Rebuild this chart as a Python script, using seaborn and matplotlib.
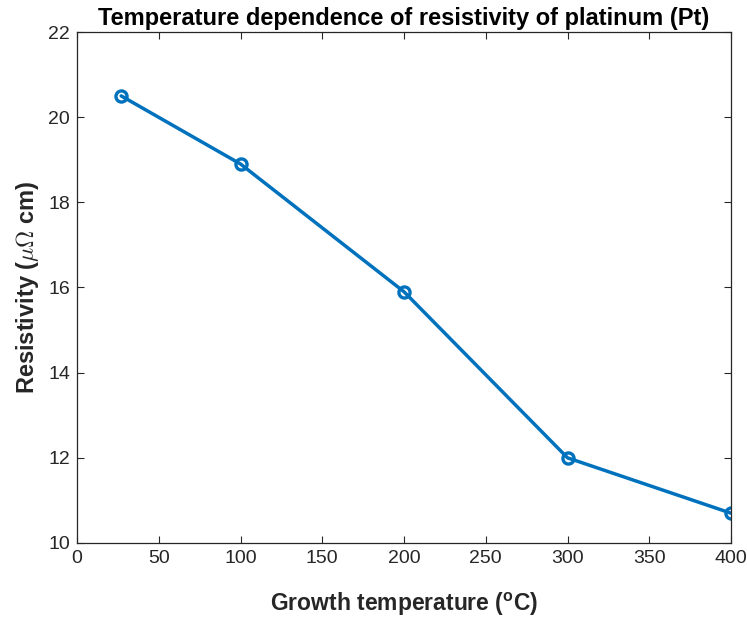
import matplotlib
matplotlib.use("Agg")
import matplotlib.pyplot as plt
import seaborn as sns
import pandas as pd

# Resistivity of platinum films versus growth temperature
growth_temp_c = [27, 100, 200, 300, 400]
resistivity_uohm_cm = [20.5, 18.9, 15.9, 12.0, 10.7]
x_ticks = [0, 50, 100, 150, 200, 250, 300, 350, 400]
y_ticks = [10, 12, 14, 16, 18, 20, 22]

sns.set_theme(style="ticks")
plt.rcParams["font.family"] = ["Liberation Sans", "DejaVu Sans"]
plt.rcParams["mathtext.fontset"] = "custom"
plt.rcParams["mathtext.rm"] = "Liberation Sans"
plt.rcParams["mathtext.bf"] = "Liberation Sans:bold"
plt.rcParams["mathtext.it"] = "Liberation Sans:italic"

axis_color = "#262626"
line_color = "#0072BD"

df = pd.DataFrame({"T": growth_temp_c, "rho": resistivity_uohm_cm})

fig = plt.figure(figsize=(7.47, 6.19), dpi=100)
ax = fig.add_axes([0.1031, 0.1228, 0.8755, 0.8255])

sns.lineplot(data=df, x="T", y="rho", ax=ax, color=line_color, linewidth=2.5,
             marker="o", markersize=8, markerfacecolor="none",
             markeredgecolor=line_color, markeredgewidth=2.4)

ax.set_xlim(0, 400)
ax.set_ylim(10, 22)
ax.set_xticks(x_ticks)
ax.set_yticks(y_ticks)
ax.tick_params(direction="in", length=5, width=0.8, colors=axis_color,
               labelsize=14, top=True, right=True, pad=5)
for side in ax.spines.values():
    side.set_color(axis_color)
    side.set_linewidth(0.9)
    side.set_visible(True)

ax.set_title("Temperature dependence of resistivity of platinum (Pt)",
             fontsize=17, fontweight="bold", color="black", pad=5)
ax.set_xlabel(r"Growth temperature ($^{\mathbf{o}}$C)", fontsize=16.5,
              fontweight="bold", color=axis_color, labelpad=17)
ylab = ax.set_ylabel(r"Resistivity ($\mu\Omega$ cm)", fontsize=17,
                     fontweight="bold", color=axis_color, labelpad=5)
ylab.set_math_fontfamily("cm")

fig.savefig("out.png", dpi=100)
